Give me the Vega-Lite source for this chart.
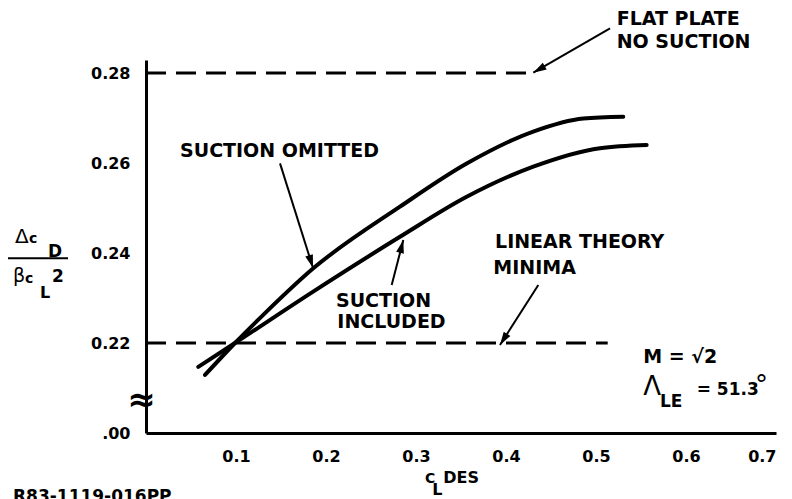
{
  "$schema": "https://vega.github.io/schema/vega-lite/v6.json",
  "width": 630,
  "height": 373,
  "autosize": {"type": "none"},
  "padding": {"left": 146, "top": 60, "right": 16, "bottom": 66},
  "background": "white",
  "config": {
    "view": {"stroke": null},
    "font": "DejaVu Sans",
    "axis": {
      "domainColor": "black",
      "domainWidth": 3,
      "grid": false,
      "ticks": false,
      "labelFont": "DejaVu Sans",
      "labelFontWeight": "bold",
      "labelFontSize": 16,
      "labelColor": "black",
      "title": null
    },
    "text": {"align": "left", "baseline": "alphabetic", "color": "black", "font": "DejaVu Sans"}
  },
  "datasets": {
    "curves": [
      {"series": "omitted", "x": 0.0656, "y": 0.2129},
      {"series": "omitted", "x": 0.0989, "y": 0.2200},
      {"series": "omitted", "x": 0.13, "y": 0.2262},
      {"series": "omitted", "x": 0.1859, "y": 0.2366},
      {"series": "omitted", "x": 0.2822, "y": 0.2503},
      {"series": "omitted", "x": 0.3563, "y": 0.2599},
      {"series": "omitted", "x": 0.4303, "y": 0.2670},
      {"series": "omitted", "x": 0.4859, "y": 0.2699},
      {"series": "omitted", "x": 0.5303, "y": 0.2703},
      {"series": "included", "x": 0.0581, "y": 0.2147},
      {"series": "included", "x": 0.0989, "y": 0.2200},
      {"series": "included", "x": 0.184, "y": 0.2312},
      {"series": "included", "x": 0.2822, "y": 0.2436},
      {"series": "included", "x": 0.3563, "y": 0.2525},
      {"series": "included", "x": 0.4303, "y": 0.2592},
      {"series": "included", "x": 0.5044, "y": 0.2633},
      {"series": "included", "x": 0.5563, "y": 0.2640}
    ],
    "refs": [
      {"name": "flat plate", "x": 0, "x2": 0.4286, "y": 0.28},
      {"name": "linear theory", "x": 0, "x2": 0.513, "y": 0.22}
    ],
    "arrows": [
      {"name": "flat plate", "x": 0.5156, "y": 0.28993, "x2": 0.4303, "y2": 0.28007, "angle": 240},
      {"name": "omitted", "x": 0.1489, "y": 0.25993, "x2": 0.1856, "y2": 0.23667, "angle": 162.5},
      {"name": "included", "x": 0.2730, "y": 0.23289, "x2": 0.2859, "y2": 0.24289, "angle": 14.5},
      {"name": "linear theory", "x": 0.4359, "y": 0.23289, "x2": 0.3933, "y2": 0.21956, "angle": 212.5}
    ],
    "xticks": [
      {"x": 0.1}, {"x": 0.2}, {"x": 0.3}, {"x": 0.4}, {"x": 0.5}, {"x": 0.6}, {"x": 0.7}
    ],
    "yticks": [
      {"y": 0.24}, {"y": 0.26}
    ],
    "bar": [
      {"x": -0.15333, "x2": -0.08667, "y": 0.23882}
    ],
    "texts": [
      {"text": "FLAT PLATE", "x": 0.523, "y": 0.29067, "role": "note"},
      {"text": "NO SUCTION", "x": 0.523, "y": 0.28556, "role": "note"},
      {"text": "SUCTION OMITTED", "x": 0.0378, "y": 0.26133, "role": "note"},
      {"text": "SUCTION", "x": 0.2111, "y": 0.22807, "role": "note"},
      {"text": "INCLUDED", "x": 0.2126, "y": 0.22327, "role": "note"},
      {"text": "LINEAR THEORY", "x": 0.3878, "y": 0.24104, "role": "note"},
      {"text": "MINIMA", "x": 0.3859, "y": 0.23527, "role": "note"},
      {"text": "M = √2", "x": 0.55256, "y": 0.21549, "role": "note"},
      {"text": "LE", "x": 0.57111, "y": 0.20571, "role": "param"},
      {"text": "= 51.3", "x": 0.61189, "y": 0.20844, "role": "param"},
      {"text": "R83-1119-016PP", "x": -0.14778, "y": 0.18467, "role": "param"},
      {"text": "c", "x": -0.13, "y": 0.24216, "role": "small"},
      {"text": "D", "x": -0.10889, "y": 0.23918, "role": "param"},
      {"text": "c", "x": -0.13444, "y": 0.23333, "role": "small"},
      {"text": "L", "x": -0.11778, "y": 0.23, "role": "sub"},
      {"text": "2", "x": -0.10444, "y": 0.23362, "role": "param"},
      {"text": "C", "x": 0.31, "y": 0.18882, "role": "small"},
      {"text": "L", "x": 0.318, "y": 0.18618, "role": "sub"},
      {"text": "DES", "x": 0.33033, "y": 0.18882, "role": "sub"},
      {"text": "Δ", "x": -0.14556, "y": 0.24216, "role": "delta"},
      {"text": "β", "x": -0.14778, "y": 0.23356, "role": "greek"},
      {"text": "Λ", "x": 0.55256, "y": 0.20844, "role": "big"},
      {"text": "°", "x": 0.6767, "y": 0.20867, "role": "big"}
    ],
    "brk": [
      {"text": "≈", "x": -0.005, "y": 0.2071}
    ]
  },
  "encoding": {
    "x": {
      "field": "x",
      "type": "quantitative",
      "scale": {"domain": [0, 0.7], "nice": false, "zero": false},
      "axis": {
        "values": [0.1, 0.2, 0.3, 0.4, 0.5, 0.6, 0.7],
        "format": ".1f",
        "labelPadding": 15
      }
    },
    "y": {
      "field": "y",
      "type": "quantitative",
      "scale": {"domain": [0.2, 0.2829], "nice": false, "zero": false},
      "axis": {
        "values": [0.2, 0.22, 0.24, 0.26, 0.28],
        "labelExpr": "datum.value < 0.21 ? '.00' : format(datum.value, '.2f')",
        "labelPadding": 16
      }
    }
  },
  "layer": [
    {
      "data": {"name": "refs"},
      "mark": {"type": "rule", "color": "black", "strokeWidth": 3, "strokeDash": [20, 10]},
      "encoding": {"x2": {"field": "x2"}}
    },
    {
      "data": {"name": "xticks"},
      "mark": {"type": "tick", "orient": "vertical", "color": "black", "opacity": 1, "size": 13, "thickness": 3},
      "encoding": {"y": {"datum": 0.20145}}
    },
    {
      "data": {"name": "yticks"},
      "mark": {"type": "tick", "orient": "horizontal", "color": "black", "opacity": 1, "size": 15, "thickness": 3},
      "encoding": {"x": {"datum": 0.0083}}
    },
    {
      "data": {"name": "curves"},
      "mark": {"type": "line", "color": "black", "strokeWidth": 4, "interpolate": "monotone", "strokeCap": "round"},
      "encoding": {"detail": {"field": "series", "type": "nominal"}}
    },
    {
      "data": {"name": "arrows"},
      "mark": {"type": "rule", "color": "black", "strokeWidth": 2},
      "encoding": {"x2": {"field": "x2"}, "y2": {"field": "y2"}}
    },
    {
      "data": {"name": "arrows"},
      "mark": {"type": "point", "shape": "M0,0L0.3,1L-0.3,1Z", "filled": true, "color": "black", "opacity": 1, "size": 700, "strokeWidth": 0},
      "encoding": {
        "x": {"field": "x2", "type": "quantitative"},
        "y": {"field": "y2", "type": "quantitative"},
        "angle": {"field": "angle", "type": "quantitative", "scale": null}
      }
    },
    {
      "data": {"name": "bar"},
      "mark": {"type": "rule", "color": "black", "strokeWidth": 2},
      "encoding": {"x2": {"field": "x2"}}
    },
    {
      "data": {"name": "texts"},
      "transform": [{"filter": "datum.role == 'note'"}],
      "mark": {"type": "text", "fontWeight": "bold", "fontSize": 19},
      "encoding": {"text": {"field": "text"}}
    },
    {
      "data": {"name": "texts"},
      "transform": [{"filter": "datum.role == 'param'"}],
      "mark": {"type": "text", "fontWeight": "bold", "fontSize": 17},
      "encoding": {"text": {"field": "text"}}
    },
    {
      "data": {"name": "texts"},
      "transform": [{"filter": "datum.role == 'sub'"}],
      "mark": {"type": "text", "fontWeight": "bold", "fontSize": 16},
      "encoding": {"text": {"field": "text"}}
    },
    {
      "data": {"name": "texts"},
      "transform": [{"filter": "datum.role == 'small'"}],
      "mark": {"type": "text", "fontWeight": "bold", "fontSize": 14},
      "encoding": {"text": {"field": "text"}}
    },
    {
      "data": {"name": "texts"},
      "transform": [{"filter": "datum.role == 'delta'"}],
      "mark": {"type": "text", "fontWeight": "normal", "fontSize": 20},
      "encoding": {"text": {"field": "text"}}
    },
    {
      "data": {"name": "texts"},
      "transform": [{"filter": "datum.role == 'greek'"}],
      "mark": {"type": "text", "fontWeight": "normal", "fontSize": 19},
      "encoding": {"text": {"field": "text"}}
    },
    {
      "data": {"name": "texts"},
      "transform": [{"filter": "datum.role == 'big'"}],
      "mark": {"type": "text", "fontWeight": "normal", "fontSize": 26},
      "encoding": {"text": {"field": "text"}}
    },
    {
      "data": {"name": "brk"},
      "mark": {"type": "text", "align": "center", "baseline": "middle", "fontWeight": "bold", "fontSize": 34},
      "encoding": {"text": {"field": "text"}}
    }
  ]
}
